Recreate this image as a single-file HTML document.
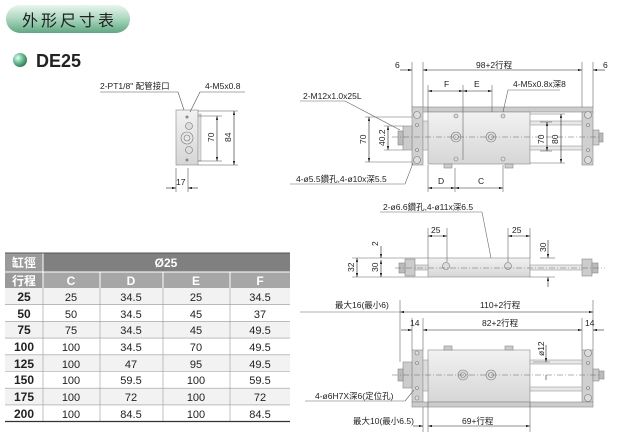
<!DOCTYPE html>
<html><head><meta charset="utf-8"><style>
body{margin:0;width:620px;height:440px;background:#fff;overflow:hidden}
svg{display:block}
text{font-family:"Liberation Sans","Noto Sans CJK TC",sans-serif;fill:#222}
</style></head><body>
<svg width="620" height="440" viewBox="0 0 620 440" xmlns="http://www.w3.org/2000/svg">
<defs>
<linearGradient id="pill" x1="0" y1="0" x2="0" y2="1"><stop offset="0" stop-color="#e8f5ee"/><stop offset="0.5" stop-color="#a9d6bd"/><stop offset="1" stop-color="#5fa883"/></linearGradient>
<radialGradient id="ball" cx="0.35" cy="0.35" r="0.7"><stop offset="0" stop-color="#e6fff0"/><stop offset="0.5" stop-color="#6cc096"/><stop offset="1" stop-color="#2a7a52"/></radialGradient>
<linearGradient id="metal" x1="0" y1="0" x2="0" y2="1"><stop offset="0" stop-color="#f2f2f2"/><stop offset="1" stop-color="#d6d6d6"/></linearGradient>
<marker id="a" viewBox="0 0 10 6" refX="10" refY="3" markerWidth="8" markerHeight="4" orient="auto-start-reverse"><path d="M0,0L10,3L0,6z" fill="#222"/></marker>
</defs>
<!-- header -->
<rect x="6" y="5" width="124" height="28" rx="14" fill="url(#pill)"/>
<text x="22" y="26" font-size="16" letter-spacing="3">外形尺寸表</text>
<circle cx="20" cy="60" r="7" fill="url(#ball)"/>
<text x="36" y="67" font-size="18" font-weight="bold">DE25</text>

<!-- table -->
<g font-size="11">
<rect x="5" y="253" width="285" height="19" fill="#808080"/>
<rect x="5" y="272" width="285" height="16" fill="#a6a6a6"/>
<rect x="5" y="253" width="38" height="35" fill="#9a9a9a"/>
<g fill="#f2f2f2"><rect x="5" y="288" width="285" height="16.7"/><rect x="5" y="321.4" width="285" height="16.7"/><rect x="5" y="354.8" width="285" height="16.7"/><rect x="5" y="388.2" width="285" height="16.7"/></g>
<g stroke="#fff" stroke-width="1"><line x1="43" y1="253" x2="43" y2="288"/><line x1="5" y1="272" x2="290" y2="272"/><line x1="100" y1="272" x2="100" y2="288"/><line x1="163" y1="272" x2="163" y2="288"/><line x1="230" y1="272" x2="230" y2="288"/></g>
<g stroke="#999" stroke-width="0.6"><line x1="43" y1="288" x2="43" y2="421"/><line x1="100" y1="288" x2="100" y2="421"/><line x1="163" y1="288" x2="163" y2="421"/><line x1="230" y1="288" x2="230" y2="421"/>
<line x1="5" y1="304.7" x2="290" y2="304.7"/><line x1="5" y1="321.4" x2="290" y2="321.4"/><line x1="5" y1="338.1" x2="290" y2="338.1"/><line x1="5" y1="354.8" x2="290" y2="354.8"/><line x1="5" y1="371.5" x2="290" y2="371.5"/><line x1="5" y1="388.2" x2="290" y2="388.2"/><line x1="5" y1="404.9" x2="290" y2="404.9"/></g>
<line x1="5" y1="253" x2="290" y2="253" stroke="#555"/><line x1="5" y1="421.5" x2="290" y2="421.5" stroke="#333" stroke-width="1.2"/>
<g fill="#fff" font-weight="bold" text-anchor="middle" font-size="12"><text x="24" y="267" style="fill:#fff">缸徑</text><text x="24" y="285" style="fill:#fff">行程</text><text x="166" y="267" style="fill:#fff">Ø25</text><text x="71" y="285" style="fill:#fff">C</text><text x="131" y="285" style="fill:#fff">D</text><text x="196" y="285" style="fill:#fff">E</text><text x="260" y="285" style="fill:#fff">F</text></g>
<g text-anchor="middle">
<g font-weight="bold" font-size="12"><text x="24" y="301">25</text><text x="24" y="318">50</text><text x="24" y="334">75</text><text x="24" y="351">100</text><text x="24" y="368">125</text><text x="24" y="384">150</text><text x="24" y="401">175</text><text x="24" y="418">200</text></g>
<text x="71" y="301">25</text><text x="131" y="301">34.5</text><text x="196" y="301">25</text><text x="260" y="301">34.5</text>
<text x="71" y="318">50</text><text x="131" y="318">34.5</text><text x="196" y="318">45</text><text x="260" y="318">37</text>
<text x="71" y="334">75</text><text x="131" y="334">34.5</text><text x="196" y="334">45</text><text x="260" y="334">49.5</text>
<text x="71" y="351">100</text><text x="131" y="351">34.5</text><text x="196" y="351">70</text><text x="260" y="351">49.5</text>
<text x="71" y="368">100</text><text x="131" y="368">47</text><text x="196" y="368">95</text><text x="260" y="368">49.5</text>
<text x="71" y="384">100</text><text x="131" y="384">59.5</text><text x="196" y="384">100</text><text x="260" y="384">59.5</text>
<text x="71" y="401">100</text><text x="131" y="401">72</text><text x="196" y="401">100</text><text x="260" y="401">72</text>
<text x="71" y="418">100</text><text x="131" y="418">84.5</text><text x="196" y="418">100</text><text x="260" y="418">84.5</text>
</g></g>

<g font-size="8.5" stroke-width="0.6">
<!-- side view -->
<rect x="176" y="110" width="22" height="55" fill="url(#metal)" stroke="#888" stroke-width="0.6"/>
<rect x="198" y="114" width="3" height="47" fill="#ddd" stroke="#999" stroke-width="0.5"/>
<circle cx="187" cy="138" r="6" fill="#e6e6e6" stroke="#777"/><circle cx="187" cy="138" r="3" fill="none" stroke="#777"/>
<circle cx="189" cy="126" r="3.5" fill="#ddd" stroke="#777"/><circle cx="189" cy="150" r="3.5" fill="#ddd" stroke="#777"/>
<circle cx="187" cy="117" r="1.5" fill="#888"/><circle cx="187" cy="160" r="1.5" fill="#888"/>
<g stroke="#555" fill="none"><line x1="100" y1="92" x2="178" y2="92"/><line x1="178" y1="92" x2="184" y2="110"/><line x1="200" y1="92" x2="245" y2="92"/><line x1="200" y1="92" x2="190" y2="112"/>
<line x1="198" y1="116" x2="222" y2="116"/><line x1="198" y1="161" x2="222" y2="161"/><line x1="198" y1="111" x2="238" y2="111"/><line x1="198" y1="165" x2="238" y2="165"/>
<line x1="176" y1="168" x2="176" y2="192"/><line x1="188" y1="168" x2="188" y2="192"/></g>
<line x1="217" y1="116" x2="217" y2="161" stroke="#222" marker-start="url(#a)" marker-end="url(#a)"/>
<line x1="234" y1="111" x2="234" y2="165" stroke="#222" marker-start="url(#a)" marker-end="url(#a)"/>
<line x1="166" y1="188" x2="176" y2="188" stroke="#222" marker-end="url(#a)"/><line x1="198" y1="188" x2="188" y2="188" stroke="#222" marker-end="url(#a)"/>
<text x="100" y="89">2-PT1/8" 配管接口</text><text x="205" y="89">4-M5x0.8</text>
<text transform="translate(214,142) rotate(-90)">70</text><text transform="translate(231,142) rotate(-90)">84</text>
<text x="176" y="185">17</text>

<!-- top right view -->
<rect x="412" y="107" width="181" height="5" fill="#ccc" stroke="#888"/>
<rect x="428" y="112" width="102" height="52" fill="url(#metal)" stroke="#888"/>
<rect x="412" y="107" width="11" height="58" fill="#d0d0d0" stroke="#888"/>
<rect x="582" y="112" width="11" height="53" fill="#d0d0d0" stroke="#888"/>
<rect x="530" y="121" width="52" height="4" fill="#e8e8e8" stroke="#999"/><rect x="530" y="146" width="52" height="4" fill="#e8e8e8" stroke="#999"/>
<rect x="423" y="121" width="5" height="29" fill="#ddd" stroke="#999"/>
<rect x="403" y="126" width="9" height="24" fill="#ccc" stroke="#888"/><rect x="398" y="131" width="5" height="14" fill="#bbb" stroke="#888"/>
<rect x="593" y="130" width="6" height="15" fill="#ccc" stroke="#888"/><rect x="599" y="133" width="4" height="9" fill="#bbb" stroke="#888"/>
<g fill="#ddd" stroke="#777"><circle cx="417" cy="115" r="3.5"/><circle cx="417" cy="160" r="3.5"/><circle cx="588" cy="115" r="3.5"/><circle cx="588" cy="160" r="3.5"/>
<circle cx="417" cy="125" r="1.5"/><circle cx="417" cy="150" r="1.5"/><circle cx="588" cy="125" r="1.5"/><circle cx="588" cy="150" r="1.5"/>
<circle cx="456" cy="137" r="5"/><circle cx="491" cy="137" r="5"/><circle cx="456" cy="137" r="2.5"/><circle cx="491" cy="137" r="2.5"/>
<circle cx="456" cy="116" r="2"/><circle cx="503" cy="116" r="2"/><circle cx="456" cy="159" r="2"/><circle cx="503" cy="159" r="2"/></g>
<rect x="444" y="164" width="8" height="4" fill="#ccc" stroke="#888"/><rect x="505" y="164" width="8" height="4" fill="#ccc" stroke="#888"/>
<g stroke="#666" fill="none">
<line x1="412" y1="62" x2="412" y2="107"/><line x1="423" y1="62" x2="423" y2="107"/><line x1="582" y1="62" x2="582" y2="107"/><line x1="593" y1="62" x2="593" y2="107"/>
<line x1="428" y1="85" x2="428" y2="112"/><line x1="463" y1="85" x2="463" y2="160"/><line x1="492" y1="85" x2="492" y2="112"/>
<line x1="428" y1="165" x2="428" y2="192"/><line x1="455" y1="168" x2="455" y2="192"/><line x1="503" y1="165" x2="503" y2="192"/>
<line x1="365" y1="117" x2="412" y2="117"/><line x1="365" y1="162" x2="412" y2="162"/><line x1="384" y1="126" x2="403" y2="126"/><line x1="384" y1="150" x2="403" y2="150"/>
<line x1="530" y1="114" x2="565" y2="114"/><line x1="530" y1="163" x2="565" y2="163"/><line x1="540" y1="122" x2="552" y2="122"/><line x1="540" y1="151" x2="552" y2="151"/>
<line x1="300" y1="101" x2="345" y2="101"/><line x1="345" y1="101" x2="400" y2="130"/>
<line x1="508" y1="90" x2="560" y2="90"/><line x1="508" y1="90" x2="503" y2="112"/>
<line x1="290" y1="184" x2="405" y2="184"/><line x1="405" y1="184" x2="413" y2="163"/>
<line x1="392" y1="137" x2="600" y2="137" stroke-dasharray="6 2 1 2"/></g>
<g stroke="#222">
<line x1="423" y1="70" x2="582" y2="70" marker-start="url(#a)" marker-end="url(#a)"/>
<line x1="400" y1="70" x2="412" y2="70" marker-end="url(#a)"/><line x1="605" y1="70" x2="593" y2="70" marker-end="url(#a)"/>
<line x1="428" y1="91" x2="463" y2="91" marker-start="url(#a)" marker-end="url(#a)"/><line x1="463" y1="91" x2="492" y2="91" marker-start="url(#a)" marker-end="url(#a)"/>
<line x1="428" y1="188" x2="455" y2="188" marker-start="url(#a)" marker-end="url(#a)"/><line x1="455" y1="188" x2="503" y2="188" marker-start="url(#a)" marker-end="url(#a)"/>
<line x1="369" y1="117" x2="369" y2="162" marker-start="url(#a)" marker-end="url(#a)"/><line x1="388" y1="126" x2="388" y2="150" marker-start="url(#a)" marker-end="url(#a)"/>
<line x1="547" y1="122" x2="547" y2="151" marker-start="url(#a)" marker-end="url(#a)"/><line x1="561" y1="114" x2="561" y2="163" marker-start="url(#a)" marker-end="url(#a)"/></g>
<text x="395" y="68">6</text><text x="603" y="68">6</text><text x="476" y="68">98+2行程</text>
<text x="444" y="87">F</text><text x="474" y="87">E</text><text x="513" y="87">4-M5x0.8x深8</text>
<text x="303" y="99">2-M12x1.0x25L</text><text x="296" y="182">4-ø5.5鑽孔,4-ø10x深5.5</text>
<text x="438" y="184">D</text><text x="478" y="184">C</text>
<text transform="translate(366,144) rotate(-90)">70</text><text transform="translate(385,146) rotate(-90)">40.2</text>
<text transform="translate(544,144) rotate(-90)">70</text><text transform="translate(558,144) rotate(-90)">80</text>

<!-- middle view -->
<rect x="428" y="258" width="102" height="19" fill="url(#metal)" stroke="#888"/>
<rect x="415" y="265" width="13" height="5" fill="#ddd" stroke="#999"/><rect x="530" y="265" width="52" height="5" fill="#e8e8e8" stroke="#999"/>
<rect x="405" y="259" width="10" height="17" fill="#ccc" stroke="#888"/><rect x="399" y="263" width="6" height="10" fill="#bbb" stroke="#888"/>
<rect x="582" y="259" width="10" height="17" fill="#ccc" stroke="#888"/><rect x="592" y="263" width="6" height="10" fill="#bbb" stroke="#888"/>
<circle cx="446" cy="266" r="3.5" fill="#ddd" stroke="#777"/><circle cx="508" cy="266" r="3.5" fill="#ddd" stroke="#777"/>
<g stroke="#666" fill="none">
<line x1="428" y1="228" x2="428" y2="258"/><line x1="447" y1="228" x2="447" y2="262"/><line x1="508" y1="228" x2="508" y2="262"/><line x1="530" y1="228" x2="530" y2="258"/>
<line x1="540" y1="258" x2="555" y2="258"/><line x1="530" y1="277" x2="555" y2="277"/>
<line x1="352" y1="258" x2="428" y2="258"/><line x1="352" y1="277" x2="428" y2="277"/>
<line x1="380" y1="212" x2="482" y2="212"/><line x1="482" y1="212" x2="491" y2="258"/>
<line x1="395" y1="268" x2="605" y2="268" stroke-dasharray="6 2 1 2"/></g>
<g stroke="#222">
<line x1="428" y1="236" x2="447" y2="236" marker-start="url(#a)" marker-end="url(#a)"/><line x1="508" y1="236" x2="530" y2="236" marker-start="url(#a)" marker-end="url(#a)"/>
<line x1="548" y1="240" x2="548" y2="258" marker-end="url(#a)"/><line x1="548" y1="287" x2="548" y2="277" marker-end="url(#a)"/>
<line x1="357" y1="258" x2="357" y2="277" marker-start="url(#a)" marker-end="url(#a)"/><line x1="381" y1="260" x2="381" y2="277" marker-start="url(#a)" marker-end="url(#a)"/>
<line x1="381" y1="246" x2="381" y2="258" marker-end="url(#a)"/></g>
<text x="383" y="210">2-ø6.6鑽孔,4-ø11x深6.5</text>
<text x="431" y="233">25</text><text x="512" y="233">25</text>
<text transform="translate(546,252) rotate(-90)">30</text><text transform="translate(354,272) rotate(-90)">32</text>
<text transform="translate(378,272) rotate(-90)">30</text><text transform="translate(378,246) rotate(-90)">2</text>

<!-- bottom view -->
<rect x="428" y="350" width="102" height="52" fill="url(#metal)" stroke="#888"/>
<rect x="412" y="350" width="11" height="52" fill="#d0d0d0" stroke="#888"/><rect x="582" y="350" width="11" height="52" fill="#d0d0d0" stroke="#888"/>
<rect x="412" y="402" width="181" height="5" fill="#ccc" stroke="#888"/>
<rect x="530" y="360" width="52" height="4" fill="#e8e8e8" stroke="#999"/><rect x="530" y="387" width="52" height="4" fill="#e8e8e8" stroke="#999"/>
<rect x="423" y="360" width="5" height="31" fill="#ddd" stroke="#999"/>
<rect x="403" y="362" width="9" height="26" fill="#ccc" stroke="#888"/><rect x="398" y="369" width="5" height="12" fill="#bbb" stroke="#888"/>
<rect x="593" y="369" width="6" height="12" fill="#ccc" stroke="#888"/><rect x="599" y="371" width="5" height="8" fill="#bbb" stroke="#888"/>
<rect x="444" y="346" width="8" height="4" fill="#ccc" stroke="#888"/><rect x="505" y="346" width="8" height="4" fill="#ccc" stroke="#888"/>
<g fill="#ddd" stroke="#777"><circle cx="417" cy="353" r="2"/><circle cx="417" cy="398" r="2"/><circle cx="417" cy="363" r="1.5"/><circle cx="417" cy="388" r="1.5"/>
<circle cx="588" cy="353" r="3.5"/><circle cx="588" cy="398" r="3.5"/><circle cx="588" cy="363" r="1.5"/><circle cx="588" cy="388" r="1.5"/>
<circle cx="463" cy="375" r="5"/><circle cx="491" cy="375" r="5"/><circle cx="463" cy="375" r="2.5"/><circle cx="491" cy="375" r="2.5"/></g>
<g stroke="#666" fill="none">
<line x1="400" y1="300" x2="400" y2="362"/><line x1="412" y1="318" x2="412" y2="350"/><line x1="423" y1="318" x2="423" y2="350"/><line x1="582" y1="318" x2="582" y2="350"/><line x1="593" y1="300" x2="593" y2="350"/>
<line x1="423" y1="407" x2="423" y2="432"/><line x1="428" y1="402" x2="428" y2="432"/><line x1="530" y1="402" x2="530" y2="432"/>
<line x1="533" y1="362" x2="550" y2="362"/>
<line x1="300" y1="312" x2="400" y2="312"/>
<line x1="305" y1="401" x2="405" y2="401"/><line x1="405" y1="401" x2="414" y2="390"/>
<line x1="392" y1="375" x2="600" y2="375" stroke-dasharray="6 2 1 2"/></g>
<g stroke="#222">
<line x1="400" y1="312" x2="593" y2="312" marker-start="url(#a)" marker-end="url(#a)"/>
<line x1="423" y1="330" x2="582" y2="330" marker-start="url(#a)" marker-end="url(#a)"/>
<line x1="401" y1="330" x2="412" y2="330" marker-end="url(#a)"/><line x1="604" y1="330" x2="593" y2="330" marker-end="url(#a)"/>
<line x1="546" y1="345" x2="546" y2="362" marker-end="url(#a)"/><line x1="546" y1="380" x2="546" y2="375"/>
<line x1="413" y1="426" x2="423" y2="426" marker-end="url(#a)"/>
<line x1="428" y1="426" x2="530" y2="426" marker-start="url(#a)" marker-end="url(#a)"/></g>
<text x="335" y="308">最大16(最小6)</text><text x="480" y="308">110+2行程</text>
<text x="410" y="326">14</text><text x="482" y="326">82+2行程</text><text x="585" y="326">14</text>
<text transform="translate(544,356) rotate(-90)">ø12</text>
<text x="315" y="399">4-ø6H7X深6(定位孔)</text>
<text x="353" y="424">最大10(最小6.5)</text><text x="462" y="424">69+行程</text>
</g>
</svg>
</body></html>
